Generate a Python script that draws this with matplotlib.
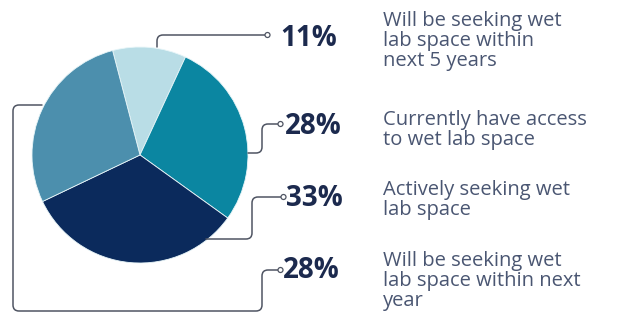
import matplotlib.pyplot as plt
from matplotlib.path import Path
from matplotlib.patches import PathPatch, Circle

plt.rcParams['font.family'] = ['Open Sans', 'DejaVu Sans']

# data
shares = [11, 28, 33, 28]
pct_labels = ['11%', '28%', '33%', '28%']
descriptions = [
    'Will be seeking wet\nlab space within\nnext 5 years',
    'Currently have access\nto wet lab space',
    'Actively seeking wet\nlab space',
    'Will be seeking wet\nlab space within next\nyear',
]
colors = ['#b9dde6', '#0b86a1', '#0b2a5c', '#4c8fad']

W, H = 617, 315
fig = plt.figure(figsize=(W / 100, H / 100), dpi=100)
ax = fig.add_axes([0, 0, 1, 1])

ax.pie(shares, colors=colors, startangle=104.7, counterclock=False,
       center=(140, H - 155), radius=108,
       wedgeprops=dict(edgecolor='#e8f6f9', linewidth=0.6))
ax.set_xlim(0, W)
ax.set_ylim(0, H)
ax.set_aspect('equal')
ax.axis('off')


def rounded(points, r=6):
    # polyline in image coords with rounded corners
    pts = [(x, H - y) for x, y in points]
    verts = [pts[0]]
    codes = [Path.MOVETO]
    for i in range(1, len(pts) - 1):
        (x0, y0), (x1, y1), (x2, y2) = pts[i - 1], pts[i], pts[i + 1]
        d0 = ((x1 - x0) ** 2 + (y1 - y0) ** 2) ** 0.5
        d1 = ((x2 - x1) ** 2 + (y2 - y1) ** 2) ** 0.5
        a = (x1 - (x1 - x0) * r / d0, y1 - (y1 - y0) * r / d0)
        b = (x1 + (x2 - x1) * r / d1, y1 + (y2 - y1) * r / d1)
        verts += [a, (x1, y1), b]
        codes += [Path.LINETO, Path.CURVE3, Path.CURVE3]
    verts.append(pts[-1])
    codes.append(Path.LINETO)
    return Path(verts, codes)


connectors = [
    [(157, 47), (157, 35), (265, 35)],
    [(248, 153), (262, 153), (262, 124), (278, 124)],
    [(206, 239), (252, 239), (252, 197), (281, 197)],
    [(42, 105), (13, 105), (13, 311), (262, 311), (262, 270), (278, 270)],
]
line_c = '#4f5563'
for pts in connectors:
    ax.add_patch(PathPatch(rounded(pts), fill=False, edgecolor=line_c, lw=1.1,
                           capstyle='round'))
    ex, ey = pts[-1]
    ax.add_patch(Circle((ex + 2.5, H - ey), 2.5, facecolor='white',
                        edgecolor=line_c, lw=0.9, zorder=5))

pct_pos = [(280, 39), (285, 126), (286, 198), (283, 271)]
for (x, y), lab in zip(pct_pos, pct_labels):
    ax.text(x, H - y, lab, fontsize=20, fontweight='bold', color='#1c2a4e',
            ha='left', va='center')

desc_top = [11, 110, 180, 251]
for y, txt in zip(desc_top, descriptions):
    ax.text(383, H - y, txt, fontsize=14.5, color='#4a5672', ha='left', va='top',
            linespacing=0.99)

fig.savefig('out.png', dpi=100, facecolor='white')
